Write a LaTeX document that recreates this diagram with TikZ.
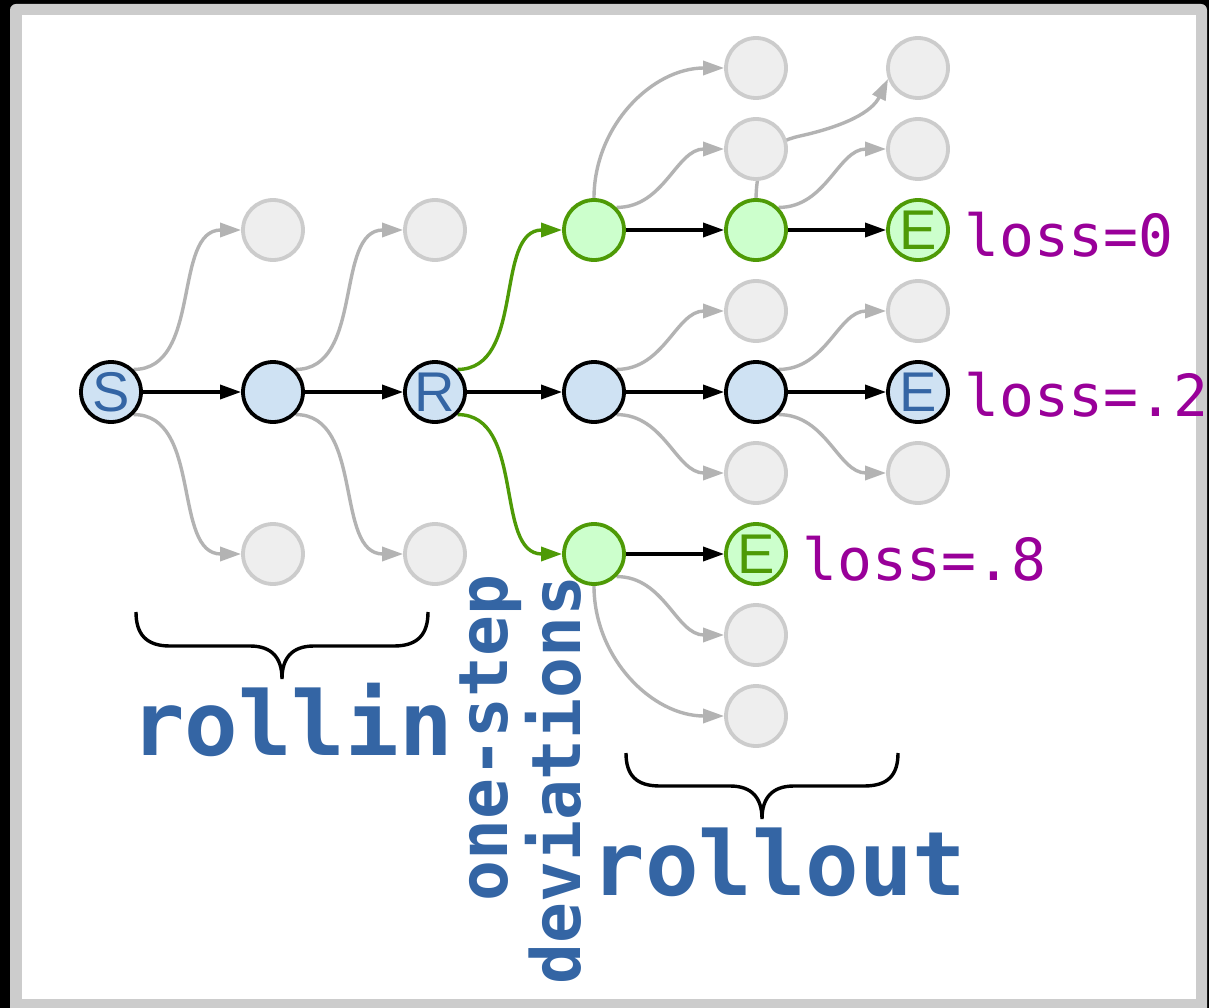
\documentclass[tikz,border=0pt]{standalone}
\usepackage{fontspec}
\setmainfont{Liberation Sans}
\newfontfamily\labelmono{DejaVu Sans Mono}
\usetikzlibrary{arrows.meta}

\definecolor{framegray}{HTML}{CCCCCC}
\definecolor{nodeblue}{HTML}{CFE2F3}
\definecolor{textblue}{HTML}{3465A4}
\definecolor{darkgreen}{HTML}{4E9A06}
\definecolor{lightgreen}{HTML}{CCFFCC}
\definecolor{grayfill}{HTML}{EEEEEE}
\definecolor{graystroke}{HTML}{CCCCCC}
\definecolor{edgegray}{HTML}{B3B3B3}
\definecolor{losspurple}{HTML}{990099}

\pgfdeclarelayer{frame}
\pgfdeclarelayer{edges}
\pgfsetlayers{frame,edges,main}

\tikzset{
  vtx/.style={circle, minimum size=60pt, inner sep=0pt, line width=3.8pt,
              font=\fontsize{56}{56}\selectfont},
  bluev/.style={vtx, draw=black, fill=nodeblue, text=textblue},
  greenv/.style={vtx, draw=darkgreen, fill=lightgreen, text=darkgreen},
  grayv/.style={vtx, draw=graystroke, fill=grayfill},
  tip/.style={-{Triangle[length=21pt,width=14pt]}},
  mainedge/.style={tip, line width=3.4pt, draw=black},
  sideedge/.style={tip, line width=3.4pt, draw=edgegray},
  devedge/.style={tip, line width=3.4pt, draw=darkgreen},
  bracepen/.style={line width=3.4pt, draw=black},
  losslabel/.style={anchor=base west, inner sep=0pt, text=losspurple,
                    font=\labelmono\fontsize{58}{58}\selectfont},
  phase/.style={inner sep=0pt, text=textblue,
                font=\labelmono\bfseries\fontsize{89}{89}\selectfont},
  devlabel/.style={inner sep=0pt, text=textblue, rotate=90, anchor=base,
                   font=\labelmono\bfseries\fontsize{68}{68}\selectfont}
}

\begin{document}
\begin{tikzpicture}[x=1pt, y=-1pt]
\useasboundingbox (0,0) rectangle (1209,1008);

% frame
\begin{pgfonlayer}{frame}
  \fill[black] (0,0) rectangle (1209,1008);
  \fill[framegray, rounded corners=6pt] (10,4) rectangle (1207,1030);
  \fill[white] (22,15) rectangle (1196,999);
\end{pgfonlayer}

% main path
\node[bluev] (s)  at (111,392) {S};
\node[bluev] (a1) at (273,392) {};
\node[bluev] (r)  at (435,392) {R};
\node[bluev] (a3) at (594,392) {};
\node[bluev] (a4) at (756,392) {};
\node[bluev] (a5) at (918,392) {E};

% deviation through the upper branch
\node[greenv] (u3) at (594,230) {};
\node[greenv] (u4) at (756,230) {};
\node[greenv] (u5) at (918,230) {E};

% deviation through the lower branch
\node[greenv] (d3) at (594,554) {};
\node[greenv] (d4) at (756,554) {E};

% unexplored states
\node[grayv] (g1u) at (273,230) {};
\node[grayv] (g1d) at (273,554) {};
\node[grayv] (g2u) at (435,230) {};
\node[grayv] (g2d) at (435,554) {};
\node[grayv] (h1)  at (756,68)  {};
\node[grayv] (h2)  at (918,68)  {};
\node[grayv] (h3)  at (756,149) {};
\node[grayv] (h4)  at (918,149) {};
\node[grayv] (h5)  at (756,311) {};
\node[grayv] (h6)  at (918,311) {};
\node[grayv] (h7)  at (756,473) {};
\node[grayv] (h8)  at (918,473) {};
\node[grayv] (h9)  at (756,635) {};
\node[grayv] (h10) at (756,716) {};

\begin{pgfonlayer}{edges}
  % chosen transitions
  \draw[mainedge] (s) -- (a1);
  \draw[mainedge] (a1) -- (r);
  \draw[mainedge] (r) -- (a3);
  \draw[mainedge] (a3) -- (a4);
  \draw[mainedge] (a4) -- (a5);
  \draw[mainedge] (u3) -- (u4);
  \draw[mainedge] (u4) -- (u5);
  \draw[mainedge] (d3) -- (d4);

  % one-step deviations
  \draw[devedge] (r.45)  to[out=0,in=180] (u3);
  \draw[devedge] (r.-45) to[out=0,in=180] (d3);

  % other transitions
  \draw[sideedge] (s.45)   to[out=0,in=180] (g1u);
  \draw[sideedge] (s.-45)  to[out=0,in=180] (g1d);
  \draw[sideedge] (a1.45)  to[out=0,in=180] (g2u);
  \draw[sideedge] (a1.-45) to[out=0,in=180] (g2d);
  \draw[sideedge] (u3.north) to[out=90,in=180] (h1);
  \draw[sideedge] (u3.45)  to[out=0,in=180] (h3);
  \draw[sideedge] (u4.north) .. controls (757,160) and (768,143) .. (800,136)
                  .. controls (845,126) and (872,112) .. (h2.200);
  \draw[sideedge] (u4.45)  to[out=0,in=180] (h4);
  \draw[sideedge] (a3.45)  to[out=0,in=180] (h5);
  \draw[sideedge] (a3.-45) to[out=0,in=180] (h7);
  \draw[sideedge] (a4.45)  to[out=0,in=180] (h6);
  \draw[sideedge] (a4.-45) to[out=0,in=180] (h8);
  \draw[sideedge] (d3.-45) to[out=0,in=180] (h9);
  \draw[sideedge] (d3.south) to[out=-90,in=180] (h10);
\end{pgfonlayer}

% losses at the end states
\node[losslabel] (l0) at (964,257) {loss=0};
\node[losslabel] (l2) at (964,416) {loss=.2};
\node[losslabel] (l8) at (802,580) {loss=.8};

% braces
\draw[bracepen] (136,612) .. controls (136,634) and (146,646) .. (170,646)
  -- (250,646) .. controls (272,646) and (282,658) .. (282,679)
  .. controls (282,658) and (292,646) .. (314,646)
  -- (394,646) .. controls (418,646) and (428,634) .. (428,612);
\draw[bracepen] (626,753) .. controls (626,775) and (636,786) .. (660,786)
  -- (730,786) .. controls (752,786) and (762,798) .. (762,819)
  .. controls (762,798) and (772,786) .. (794,786)
  -- (864,786) .. controls (888,786) and (898,775) .. (898,753);

% phase labels
\node[phase, anchor=base] (rollin) at (292,755) {rollin};
\node[phase, anchor=base] (rollout) at (779,895) {rollout};
\node[devlabel] (onestep) at (507,738) {one-step};
\node[devlabel] (deviations) at (580,780) {deviations};
\end{tikzpicture}
\end{document}
